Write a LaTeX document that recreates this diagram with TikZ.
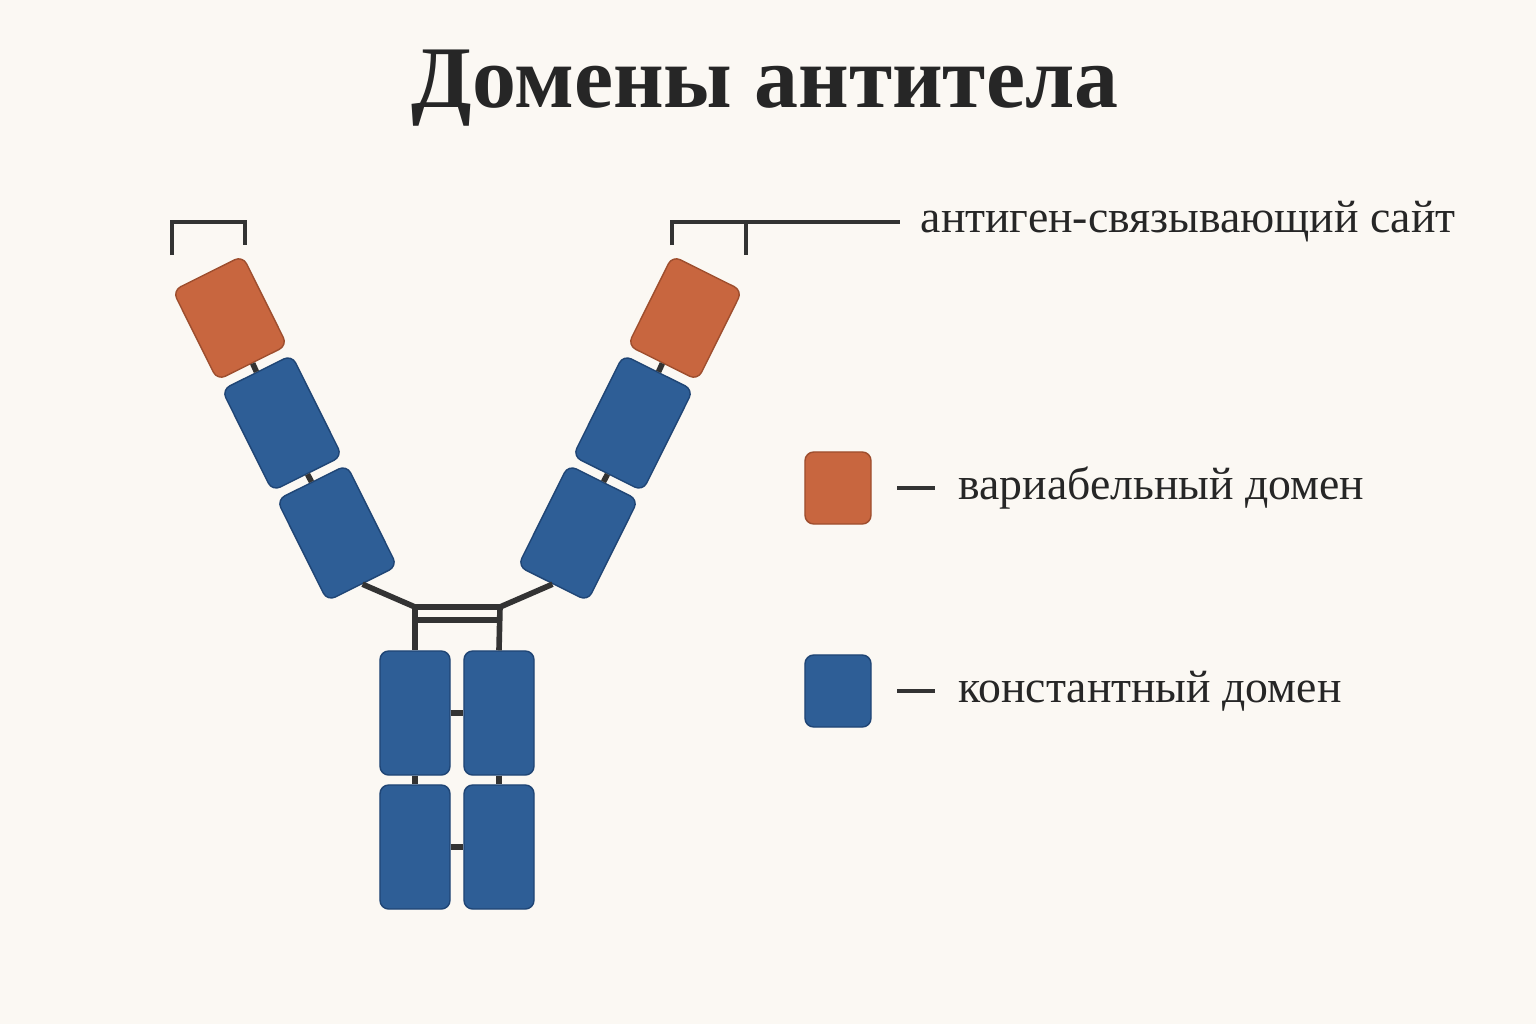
\documentclass[tikz,border=0pt]{standalone}
\usepackage{fontspec}
\setmainfont{Liberation Serif}
\usetikzlibrary{positioning}
\definecolor{bgcol}{HTML}{FBF8F3}
\definecolor{varcol}{HTML}{C8663F}
\definecolor{varedge}{HTML}{9E4E2E}
\definecolor{concol}{HTML}{2E5E96}
\definecolor{conedge}{HTML}{1F4575}
\definecolor{linkcol}{HTML}{333333}
\begin{document}
\begin{tikzpicture}[x=0.01cm,y=-0.01cm,
  vdom/.style={draw=varedge,fill=varcol,rounded corners=2.5pt,minimum width=0.78cm,minimum height=1.0cm,inner sep=0pt},
  cdom/.style={draw=conedge,fill=concol,rounded corners=2.5pt,minimum width=0.78cm,minimum height=1.13cm,inner sep=0pt},
  stem/.style={draw=conedge,fill=concol,rounded corners=2.5pt,minimum width=0.7cm,minimum height=1.24cm,inner sep=0pt},
  link/.style={draw=linkcol,line width=1.6pt},
  brk/.style={draw=linkcol,line width=1.1pt},
  lbl/.style={font=\fontsize{13}{15}\selectfont,text=black!85,anchor=west,inner sep=0pt}]
\fill[bgcol] (0,0) rectangle (1536,1024);
\node[font=\fontsize{25}{30}\selectfont\bfseries,text=black!85] (title) at (765,88) {Домены антитела};
% left arm
\node[vdom,rotate=26.5] (lv) at (230,318) {};
\node[cdom,rotate=26.5] (lc1) at (282,423) {};
\node[cdom,rotate=26.5] (lc2) at (337,533) {};
% right arm
\node[vdom,rotate=-26.5] (rv) at (685,318) {};
\node[cdom,rotate=-26.5] (rc1) at (633,423) {};
\node[cdom,rotate=-26.5] (rc2) at (578,533) {};
% stem
\node[stem] (s11) at (415,713) {};
\node[stem] (s12) at (499,713) {};
\node[stem] (s21) at (415,847) {};
\node[stem] (s22) at (499,847) {};
% hinge
\coordinate (hl) at (415,607);
\coordinate (hr) at (500,607);
\coordinate (hl2) at (415,620);
\coordinate (hr2) at (500,620);
\begin{scope}[on background layer/.try]
\end{scope}
\draw[link] (lv.south) -- (lc1.north);
\draw[link] (lc1.south) -- (lc2.north);
\draw[link] (rv.south) -- (rc1.north);
\draw[link] (rc1.south) -- (rc2.north);
\draw[link] (lc2.south) -- (hl) -- (hr) -- (rc2.south);
\draw[link] (hl2) -- (hr2);
\draw[link] (hl) -- (s11.north);
\draw[link] (hr) -- (s12.north);
\draw[link] (s11.east) -- (s12.west);
\draw[link] (s21.east) -- (s22.west);
\draw[link] (s11.south) -- (s21.north);
\draw[link] (s12.south) -- (s22.north);
% brackets
\draw[brk] (172,255) -- (172,222) -- (245,222) -- (245,245);
\draw[brk] (672,245) -- (672,222) -- (746,222) -- (746,255);
\coordinate (bend) at (900,222);
\draw[brk] (746,222) -- (bend);
\node[lbl,right=20 of bend] (site) {антиген-связывающий сайт};
% legend
\node[vdom,minimum width=0.66cm,minimum height=0.72cm] (kv) at (838,488) {};
\node[vdom,fill=concol,draw=conedge,minimum width=0.66cm,minimum height=0.72cm] (kc) at (838,691) {};
\draw[brk] (897,488) -- (935,488);
\draw[brk] (897,691) -- (935,691);
\node[lbl] (tv) at (958,488) {вариабельный домен};
\node[lbl] (tc) at (958,691) {константный домен};
\end{tikzpicture}
\end{document}
